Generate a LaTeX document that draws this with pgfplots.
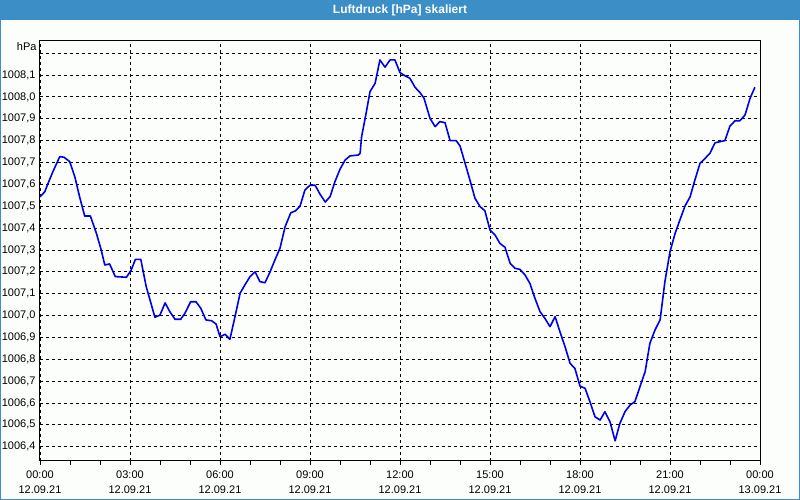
\documentclass[border=0pt]{standalone}
\usepackage{pgfplots}
\pgfplotsset{compat=1.18}
\usepackage{fontspec}
\setmainfont{Liberation Sans}
\definecolor{titleblue}{RGB}{60,143,198}
\definecolor{bg}{RGB}{252,254,252}
\definecolor{lineblue}{RGB}{0,0,230}
\begin{document}
\begin{tikzpicture}
\fill[bg] (0,0) rectangle (800pt,-500pt);
\fill[titleblue] (0,0) rectangle (800pt,-20pt);
\draw[titleblue, line width=1pt] (0.5pt,-20pt) -- (0.5pt,-499.5pt) -- (799.5pt,-499.5pt) -- (799.5pt,-20pt);
\node[text=white, font=\fontsize{12}{14}\selectfont\bfseries] at (400pt,-10pt) {Luftdruck [hPa] skaliert};
\begin{axis}[
 at={(40pt,-460.7pt)}, anchor=south west,
 scale only axis, width=720pt, height=420pt,
 xmin=0, xmax=24, ymin=1006.336, ymax=1008.257,
 xtick={0,3,6,9,12,15,18,21,24},
 xticklabels={{00:00\\12.09.21},{03:00\\12.09.21},{06:00\\12.09.21},{09:00\\12.09.21},{12:00\\12.09.21},{15:00\\12.09.21},{18:00\\12.09.21},{21:00\\12.09.21},{00:00\\13.09.21}},
 minor x tick num=2,
 ytick={1006.4,1006.5,1006.6,1006.7,1006.8,1006.9,1007.0,1007.1,1007.2,1007.3,1007.4,1007.5,1007.6,1007.7,1007.8,1007.9,1008.0,1008.1,1008.2},
 yticklabels={{1006,4},{1006,5},{1006,6},{1006,7},{1006,8},{1006,9},{1007,0},{1007,1},{1007,2},{1007,3},{1007,4},{1007,5},{1007,6},{1007,7},{1007,8},{1007,9},{1008,0},{1008,1},{}},
 xtick pos=bottom, ytick pos=left,
 tick align=outside,
 major tick length=4pt, minor tick length=4pt,
 ytick style={draw=none},
 xtick style={black, line width=0.8pt},
 minor tick style={black, line width=0.8pt},
 xmajorgrids, ymajorgrids,
 major grid style={black, line width=0.8pt, dash pattern=on 3pt off 3pt},
 axis line style={black, line width=1pt},
 tick label style={font=\fontsize{11}{14.5}\selectfont, text=black},
 xticklabel style={align=center, yshift=-3pt},
 yticklabel style={xshift=3pt},
 axis background/.style={fill=bg},
 clip=false,
]
\addplot[lineblue, line width=1.6pt, mark=none, line join=round] coordinates {
(0,1007.543) (0.16,1007.566) (0.27,1007.605) (0.43,1007.658) (0.66,1007.727) (0.80,1007.724) (0.99,1007.704) (1.16,1007.635) (1.32,1007.543) (1.49,1007.455) (1.68,1007.455) (1.88,1007.376) (2.04,1007.300) (2.16,1007.231) (2.32,1007.236) (2.51,1007.178) (2.88,1007.175) (3.04,1007.208) (3.18,1007.257) (3.36,1007.257) (3.54,1007.132) (3.67,1007.070) (3.83,1006.992) (4.00,1007.002) (4.17,1007.058) (4.33,1007.017) (4.50,1006.983) (4.69,1006.983) (4.83,1007.010) (5.02,1007.063) (5.20,1007.063) (5.36,1007.033) (5.53,1006.980) (5.72,1006.976) (5.87,1006.961) (6.00,1006.903) (6.17,1006.914) (6.33,1006.891) (6.50,1006.995) (6.67,1007.102) (6.83,1007.140) (7.00,1007.178) (7.17,1007.200) (7.33,1007.155) (7.50,1007.150) (7.67,1007.200) (7.83,1007.254) (8.00,1007.308) (8.17,1007.406) (8.36,1007.470) (8.52,1007.479) (8.67,1007.501) (8.83,1007.574) (9.00,1007.596) (9.17,1007.596) (9.33,1007.556) (9.51,1007.519) (9.67,1007.544) (9.83,1007.612) (10.00,1007.669) (10.17,1007.711) (10.33,1007.730) (10.61,1007.734) (10.67,1007.742) (10.72,1007.818) (10.87,1007.925) (11.00,1008.024) (11.17,1008.062) (11.33,1008.169) (11.50,1008.136) (11.67,1008.169) (11.83,1008.169) (12.00,1008.111) (12.17,1008.096) (12.33,1008.085) (12.50,1008.044) (12.67,1008.019) (12.80,1007.994) (13.00,1007.902) (13.17,1007.864) (13.33,1007.887) (13.50,1007.882) (13.67,1007.800) (13.87,1007.800) (14.00,1007.776) (14.17,1007.696) (14.33,1007.620) (14.50,1007.536) (14.67,1007.498) (14.83,1007.479) (15.00,1007.391) (15.17,1007.368) (15.33,1007.330) (15.50,1007.312) (15.67,1007.239) (15.83,1007.216) (16.00,1007.211) (16.17,1007.185) (16.33,1007.147) (16.50,1007.078) (16.67,1007.017) (16.83,1006.987) (17.00,1006.949) (17.17,1006.995) (17.33,1006.926) (17.50,1006.858) (17.67,1006.781) (17.83,1006.758) (18.00,1006.677) (18.17,1006.667) (18.33,1006.606) (18.50,1006.537) (18.67,1006.522) (18.83,1006.560) (19.00,1006.514) (19.17,1006.427) (19.33,1006.507) (19.50,1006.560) (19.67,1006.591) (19.83,1006.606) (20.00,1006.675) (20.17,1006.743) (20.33,1006.873) (20.50,1006.934) (20.67,1006.980) (20.83,1007.155) (21.00,1007.292) (21.17,1007.376) (21.33,1007.437) (21.50,1007.501) (21.67,1007.543) (21.83,1007.620) (22.00,1007.696) (22.17,1007.719) (22.33,1007.742) (22.50,1007.790) (22.83,1007.800) (23.00,1007.867) (23.17,1007.891) (23.33,1007.891) (23.50,1007.917) (23.67,1007.994) (23.83,1008.044)
};
\node[anchor=east, font=\fontsize{11}{14.5}\selectfont, inner sep=0pt] at (rel axis cs:0,1) [xshift=-3.3pt, yshift=-6pt] {hPa};
\end{axis}
\pgfresetboundingbox
\useasboundingbox (0,0) rectangle (800pt,-500pt);
\end{tikzpicture}
\end{document}
